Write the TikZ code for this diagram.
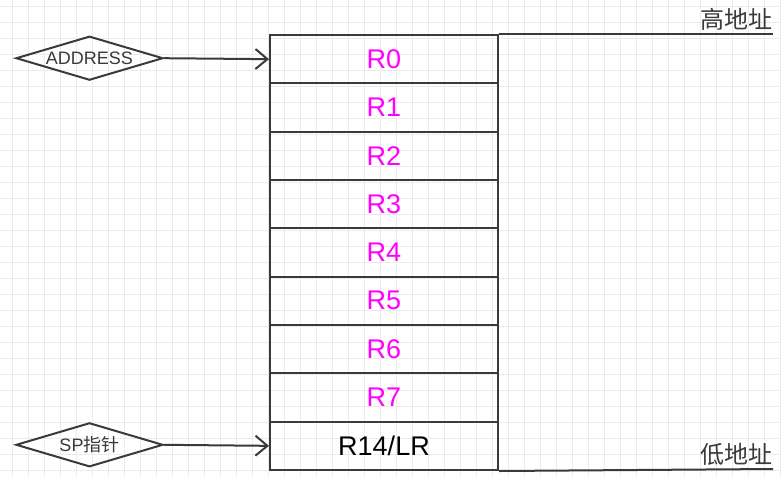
\documentclass[tikz,border=0pt]{standalone}
\usepackage{fontspec}
\setmainfont{Liberation Sans}
\newfontfamily\cjk{Noto Sans CJK SC}
\usetikzlibrary{shapes.geometric,arrows.meta}
\definecolor{ln}{HTML}{3A3A3A}
\definecolor{gridc}{HTML}{EBEBEB}
\definecolor{mag}{HTML}{FF00FF}
\begin{document}
\begin{tikzpicture}[x=1pt,y=-1pt,
  reg/.style={draw=ln,line width=2pt,minimum width=228pt,minimum height=48.33pt,inner sep=0pt,anchor=north west,font=\fontsize{27}{29}\selectfont,text=mag},
  dia/.style={draw=ln,line width=2pt,diamond,aspect=3.34,minimum width=147pt,minimum height=44pt,inner sep=0pt,font=\fontsize{18}{20}\selectfont,text=ln},
  conn/.style={draw=ln,line width=2pt,-{Straight Barb[length=12pt,width=20pt,line width=2pt]}},
  lab/.style={font=\fontsize{24}{26}\selectfont\cjk,text=ln,anchor=base east,inner sep=0pt}]
\useasboundingbox (0,0) rectangle (781,477);
\fill[white] (0,0) rectangle (781,477);
\foreach \x in {12.5,28.5,...,781} \draw[gridc,line width=1pt] (\x,0) -- (\x,477);
\foreach \y in {6,22,...,477} \draw[gridc,line width=1pt] (0,\y) -- (781,\y);
\node[reg] (r0) at (269,34) {R0};
\node[reg] (r1) at (269,82.33) {R1};
\node[reg] (r2) at (269,130.67) {R2};
\node[reg] (r3) at (269,179) {R3};
\node[reg] (r4) at (269,227.33) {R4};
\node[reg] (r5) at (269,275.67) {R5};
\node[reg] (r6) at (269,324) {R6};
\node[reg] (r7) at (269,372.33) {R7};
\node[reg,text=black] (r14) at (269,420.67) {R14/LR};
\coordinate (hiend) at (773,34);
\coordinate (loend) at (773,469);
\draw[ln,line width=2pt] (r0.north east) -- (hiend);
\draw[ln,line width=2pt] (r14.south east) -- (loend);
\node[lab] (hi) at (773,28) {高地址};
\node[lab] (lo) at (773,463) {低地址};
\node[dia] (addr) at (89.5,58.2) {ADDRESS};
\node[dia] (sp) at (89.5,444.8) {SP{\cjk 指针}};
\draw[conn] (addr.east) -- (r0.west);
\draw[conn] (sp.east) -- (r14.west);
\end{tikzpicture}
\end{document}
